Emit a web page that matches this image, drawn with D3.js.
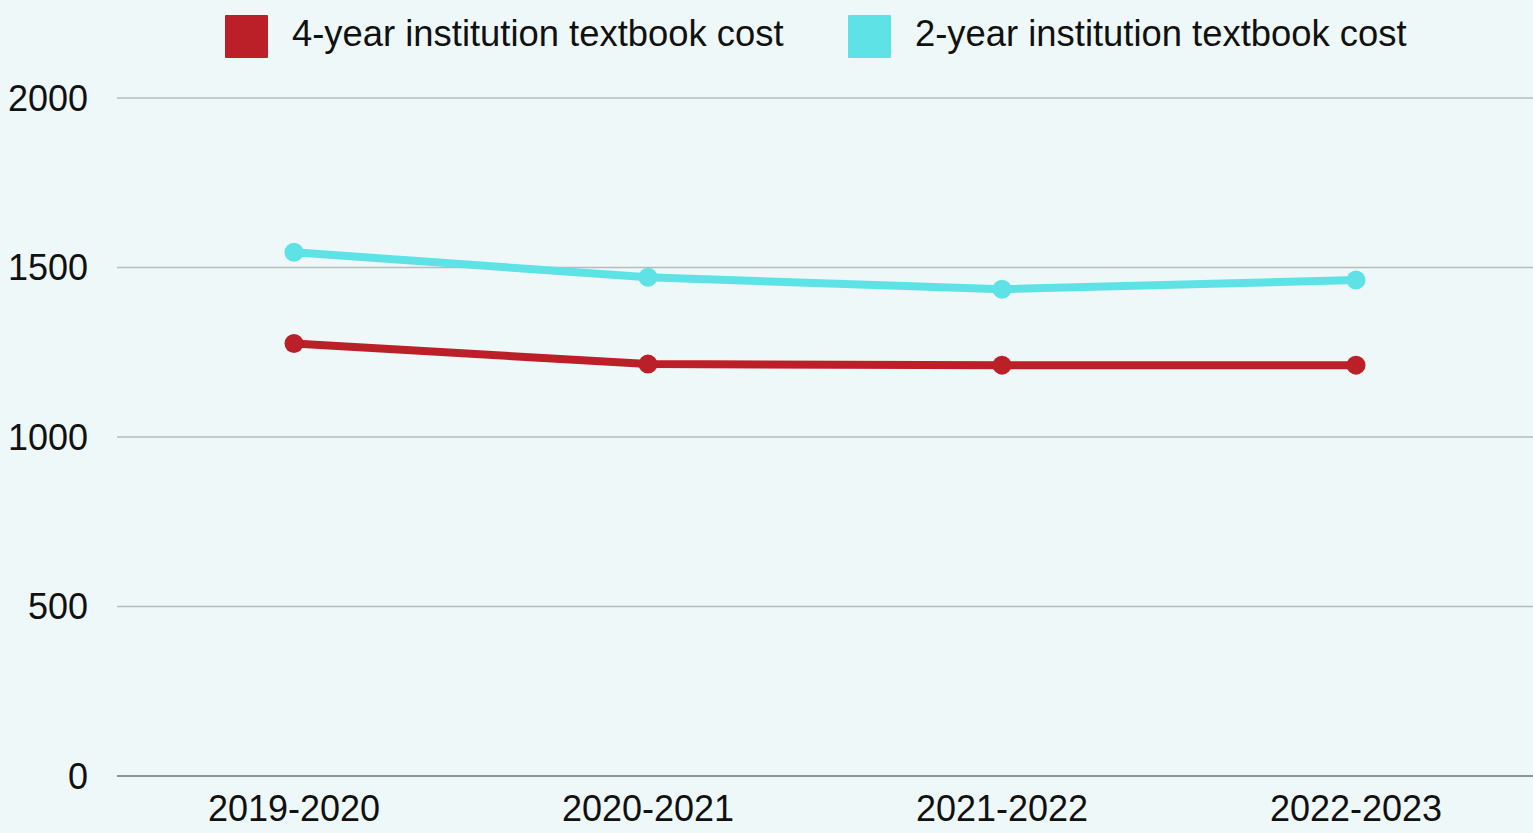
<!DOCTYPE html>
<html>
<head>
<meta charset="utf-8">
<script src="https://cdn.jsdelivr.net/npm/d3@7"></script>
<style>
  html, body { margin: 0; padding: 0; background: #eff8f8; }
  svg { display: block; font-family: "Liberation Sans", Arial, sans-serif; }
  .tick-label { fill: #111; font-size: 36px; }
  .legend-label { fill: #111; font-size: 36.4px; }
</style>
</head>
<body>
<div id="chart"></div>
<script>
const years = ['2019-2020', '2020-2021', '2021-2022', '2022-2023'];
const fourYear = [1276, 1215, 1212, 1212];
const twoYear = [1545, 1471, 1436, 1463];
const yTicks = [0, 500, 1000, 1500, 2000];

const seriesNames = ['4-year institution textbook cost', '2-year institution textbook cost'];
const seriesColors = ['#bb1f27', '#5ee2e6'];

const width = 1533;
const height = 833;
const margin = {top: 98, right: 0, bottom: 57, left: 117};

let svg = d3.select('#chart').append('svg')
  .attr('width', width)
  .attr('height', height)

svg.append('rect')
  .attr('width', width)
  .attr('height', height)
  .attr('fill', '#eff8f8')

let x = d3.scaleBand()
  .domain(years)
  .range([margin.left, width - margin.right])
  .padding(0)

let y = d3.scaleLinear()
  .domain([0, 2000])
  .range([height - margin.bottom, margin.top])

// gridlines
svg.append('g')
  .selectAll('line')
  .data(yTicks)
  .enter().append('line')
    .attr('x1', margin.left)
    .attr('x2', width - margin.right)
    .attr('y1', d => y(d))
    .attr('y2', d => y(d))
    .attr('stroke', d => d === 0 ? '#6f7575' : '#b4bcbc')
    .attr('stroke-width', 1.5)

// y labels
svg.append('g')
  .selectAll('text')
  .data(yTicks)
  .enter().append('text')
    .classed('tick-label', true)
    .attr('x', 88)
    .attr('y', d => y(d))
    .attr('dy', '0.36em')
    .attr('text-anchor', 'end')
    .text(d => d)

// x labels
svg.append('g')
  .selectAll('text')
  .data(years)
  .enter().append('text')
    .classed('tick-label', true)
    .attr('x', d => x(d) + x.bandwidth() / 2)
    .attr('y', 821)
    .attr('text-anchor', 'middle')
    .text(d => d)

let line = d3.line()
  .x((d, i) => x(years[i]) + x.bandwidth() / 2)
  .y(d => y(d))

let series = [twoYear, fourYear];
let colors = [seriesColors[1], seriesColors[0]];

series.forEach((values, s) => {
  let g = svg.append('g')
  g.append('path')
    .datum(values)
    .attr('d', line)
    .attr('fill', 'none')
    .attr('stroke', colors[s])
    .attr('stroke-width', 8)

  g.selectAll('circle')
    .data(values)
    .enter().append('circle')
      .attr('cx', (d, i) => x(years[i]) + x.bandwidth() / 2)
      .attr('cy', d => y(d))
      .attr('r', 9.5)
      .attr('fill', colors[s])
})

// legend
const legendX = [225, 848];
let legend = svg.append('g')
  .selectAll('g')
  .data(seriesNames)
  .enter().append('g')
    .attr('transform', (d, i) => `translate(${legendX[i]}, 15)`)

legend.append('rect')
  .attr('width', 43)
  .attr('height', 43)
  .attr('rx', 1)
  .attr('fill', (d, i) => seriesColors[i])

legend.append('text')
  .classed('legend-label', true)
  .attr('x', 67)
  .attr('y', 31)
  .text(d => d)
</script>
</body>
</html>
